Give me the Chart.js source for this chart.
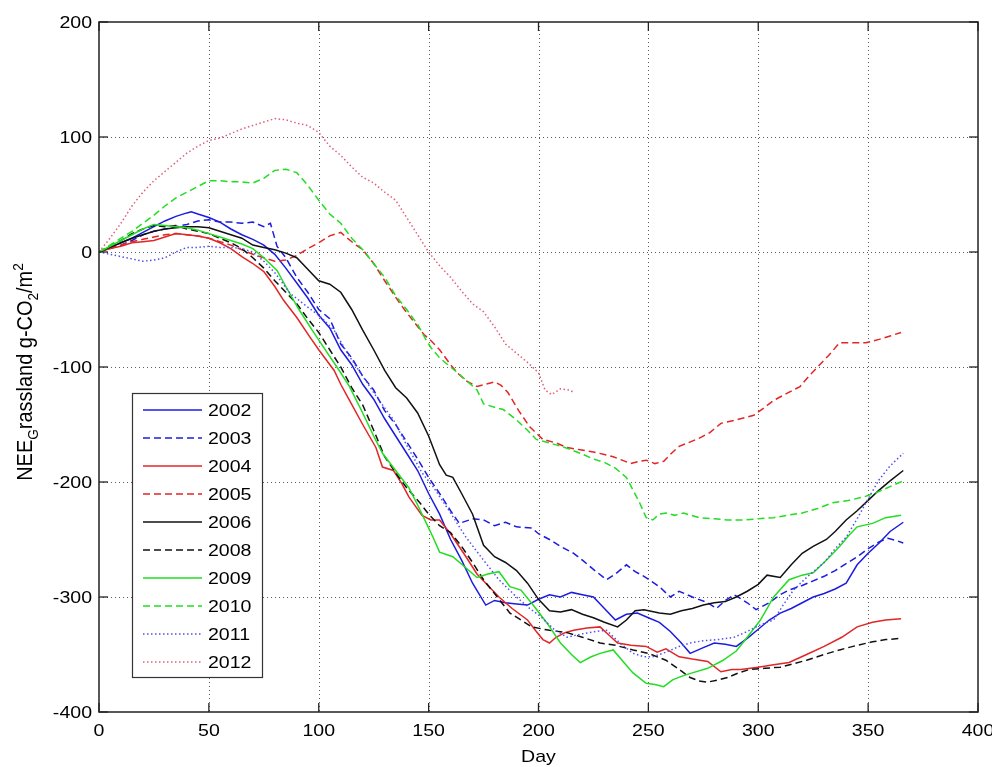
<!DOCTYPE html>
<html>
<head>
<meta charset="utf-8">
<script src="https://cdn.jsdelivr.net/npm/chart.js@4.4.1/dist/chart.umd.min.js"></script>
<style>
  html, body { margin: 0; padding: 0; background: #fff; }
  #wrap { width: 992px; height: 767px; }
</style>
</head>
<body>
<div id="wrap"><canvas id="c" width="992" height="767"></canvas></div>
<script>
// Cumulative grassland NEE (g-CO2/m2) against day of year, one curve per year.
const xTicks = [0, 50, 100, 150, 200, 250, 300, 350, 400];
const yTicks = [-400, -300, -200, -100, 0, 100, 200];
const years = ['2002', '2003', '2004', '2005', '2006', '2008', '2009', '2010', '2011', '2012'];

// [day, cumulative NEE]
const nee2002 = [[0,0],[5,4],[10,8],[15,12],[20,17],[25,22],[30,27],[35,31],[40,34],[42,35],[45,33],[50,30],[55,26],[60,20],[65,15],[70,11],[75,6],[80,-2],[85,-14],[90,-27],[95,-40],[100,-55],[105,-66],[110,-85],[115,-98],[120,-115],[125,-128],[130,-145],[135,-160],[140,-175],[145,-190],[150,-210],[155,-228],[160,-250],[165,-268],[170,-288],[176,-307],[180,-303],[185,-305],[190,-306],[195,-307],[200,-302],[205,-298],[210,-300],[215,-296],[220,-298],[225,-300],[230,-310],[235,-320],[240,-315],[245,-314],[250,-318],[255,-322],[260,-330],[265,-340],[269,-349],[275,-344],[280,-340],[285,-341],[290,-343],[295,-336],[300,-328],[305,-320],[310,-314],[315,-310],[320,-305],[325,-300],[330,-297],[335,-293],[340,-288],[345,-272],[350,-262],[355,-253],[360,-243],[366,-235]];
const nee2003 = [[0,0],[5,3],[10,6],[15,10],[20,15],[25,18],[30,20],[35,22],[40,24],[45,27],[50,28],[55,26],[60,26],[65,25],[70,26],[75,22],[78,25],[81,5],[85,-5],[90,-22],[95,-35],[100,-50],[105,-58],[110,-80],[115,-92],[120,-108],[125,-120],[130,-138],[135,-150],[140,-165],[145,-180],[150,-196],[155,-210],[160,-225],[164,-236],[170,-232],[175,-233],[180,-238],[185,-235],[190,-239],[197,-240],[200,-245],[205,-250],[210,-256],[216,-262],[220,-268],[225,-276],[231,-285],[235,-280],[240,-272],[244,-278],[248,-282],[255,-291],[260,-300],[264,-295],[270,-300],[277,-305],[281,-310],[285,-303],[289,-298],[295,-305],[299,-311],[305,-305],[310,-298],[314,-294],[320,-290],[325,-286],[330,-282],[335,-277],[340,-271],[345,-265],[350,-258],[355,-252],[359,-249],[363,-251],[366,-253]];
const nee2004 = [[0,0],[5,3],[10,5],[15,8],[20,9],[25,10],[30,13],[35,16],[40,15],[45,14],[50,12],[55,8],[60,3],[65,-4],[70,-10],[75,-17],[80,-30],[84,-42],[90,-57],[96,-74],[100,-85],[107,-103],[110,-115],[114,-129],[120,-150],[126,-170],[129,-187],[134,-190],[138,-202],[141,-213],[147,-229],[151,-233],[155,-233],[160,-245],[167,-265],[172,-280],[177,-290],[182,-300],[188,-310],[195,-320],[199,-330],[202,-337],[205,-340],[208,-335],[212,-331],[216,-329],[222,-327],[228,-326],[232,-333],[236,-340],[242,-342],[249,-343],[254,-348],[258,-345],[264,-352],[270,-354],[277,-356],[283,-365],[288,-363],[292,-363],[300,-361],[307,-359],[314,-357],[322,-350],[330,-343],[338,-335],[345,-326],[352,-322],[358,-320],[365,-319]];
const nee2005 = [[0,0],[5,3],[10,6],[15,9],[20,11],[25,13],[30,15],[35,16],[40,15],[45,14],[50,12],[55,9],[60,6],[65,2],[70,-2],[75,-5],[80,-8],[85,-7],[90,-3],[95,3],[100,8],[105,14],[110,17],[113,12],[117,6],[120,2],[125,-10],[130,-25],[137,-45],[143,-60],[148,-72],[151,-77],[155,-85],[160,-98],[163,-105],[167,-112],[172,-117],[176,-115],[180,-113],[183,-116],[186,-122],[191,-138],[196,-152],[202,-163],[208,-166],[213,-170],[219,-172],[225,-174],[230,-176],[234,-178],[238,-181],[242,-184],[246,-182],[249,-181],[253,-184],[257,-182],[260,-176],[264,-169],[268,-166],[273,-162],[278,-157],[283,-149],[290,-146],[298,-142],[303,-135],[307,-129],[313,-123],[319,-117],[323,-108],[327,-100],[332,-90],[337,-79],[343,-79],[349,-79],[355,-76],[360,-73],[365,-70]];
const nee2006 = [[0,0],[5,4],[10,8],[15,12],[20,15],[25,18],[30,20],[35,21],[40,22],[45,22],[50,21],[55,18],[60,15],[65,12],[70,6],[75,4],[80,2],[85,-1],[90,-5],[95,-15],[100,-25],[105,-28],[110,-35],[115,-50],[120,-68],[125,-85],[130,-103],[135,-118],[140,-127],[145,-140],[150,-160],[155,-185],[158,-194],[161,-196],[165,-210],[170,-228],[175,-255],[180,-265],[185,-270],[190,-277],[195,-288],[200,-302],[205,-312],[210,-313],[215,-311],[220,-315],[225,-318],[230,-322],[236,-326],[240,-320],[244,-312],[248,-311],[255,-314],[260,-315],[265,-312],[270,-310],[275,-307],[280,-305],[285,-304],[290,-300],[295,-295],[300,-289],[304,-281],[310,-283],[315,-272],[320,-262],[325,-256],[331,-250],[335,-243],[340,-233],[345,-225],[350,-216],[355,-207],[360,-199],[366,-190]];
const nee2008 = [[0,0],[5,5],[10,10],[15,16],[20,20],[25,23],[30,22],[35,23],[40,20],[45,18],[50,16],[55,12],[60,8],[65,3],[70,-5],[75,-14],[80,-25],[85,-35],[90,-45],[95,-58],[100,-70],[105,-85],[110,-100],[115,-118],[120,-133],[125,-155],[130,-178],[135,-192],[140,-205],[146,-218],[150,-228],[155,-238],[160,-244],[165,-256],[170,-270],[175,-285],[180,-297],[187,-314],[192,-320],[197,-326],[205,-329],[213,-331],[220,-335],[228,-340],[235,-342],[243,-346],[250,-349],[258,-355],[264,-363],[269,-370],[273,-373],[277,-374],[282,-372],[286,-370],[291,-366],[296,-363],[303,-362],[310,-361],[316,-358],[322,-355],[330,-350],[337,-346],[345,-342],[352,-339],[358,-337],[365,-336]];
const nee2009 = [[0,0],[5,5],[10,10],[15,15],[20,20],[25,24],[30,23],[35,22],[40,21],[45,19],[50,16],[55,13],[60,10],[65,7],[70,3],[75,-5],[81,-16],[85,-30],[91,-50],[97,-68],[104,-88],[110,-105],[114,-117],[120,-140],[125,-160],[129,-175],[135,-190],[141,-205],[145,-220],[149,-236],[152,-248],[155,-261],[161,-265],[166,-273],[172,-283],[177,-280],[182,-278],[187,-291],[192,-294],[198,-308],[204,-323],[210,-340],[215,-350],[219,-357],[224,-352],[228,-349],[234,-346],[238,-355],[243,-366],[249,-375],[253,-376],[257,-378],[261,-372],[265,-369],[270,-366],[277,-362],[284,-355],[290,-347],[295,-335],[301,-320],[307,-300],[314,-285],[320,-281],[325,-279],[331,-268],[337,-256],[341,-247],[345,-239],[352,-236],[358,-231],[365,-229]];
const nee2010 = [[0,0],[5,6],[10,12],[15,18],[20,25],[25,32],[30,40],[35,47],[40,52],[45,57],[50,62],[55,62],[60,61],[65,61],[70,60],[75,64],[80,71],[85,72],[90,69],[95,58],[100,45],[105,33],[110,25],[115,12],[120,2],[125,-10],[130,-22],[135,-38],[140,-50],[145,-63],[149,-77],[151,-83],[155,-92],[160,-100],[165,-108],[172,-120],[175,-132],[180,-135],[184,-137],[190,-146],[195,-155],[199,-163],[205,-166],[212,-170],[219,-175],[225,-180],[230,-183],[235,-188],[240,-196],[243,-207],[246,-218],[249,-231],[252,-233],[255,-228],[258,-227],[262,-229],[266,-227],[273,-231],[280,-232],[286,-233],[293,-233],[300,-232],[307,-231],[313,-229],[320,-227],[327,-223],[334,-218],[341,-216],[348,-213],[354,-209],[360,-204],[366,-199]];
const nee2011 = [[0,0],[5,-2],[10,-4],[15,-6],[20,-8],[25,-7],[30,-5],[35,0],[40,4],[45,4],[50,5],[55,4],[60,4],[65,3],[70,0],[75,-8],[80,-18],[87,-36],[95,-48],[100,-55],[107,-68],[113,-88],[120,-108],[126,-125],[134,-146],[140,-168],[147,-192],[152,-204],[160,-227],[167,-248],[175,-268],[182,-285],[190,-300],[196,-310],[201,-317],[207,-328],[213,-335],[220,-332],[226,-330],[231,-329],[237,-340],[243,-349],[248,-352],[252,-352],[258,-348],[264,-343],[269,-340],[275,-338],[282,-337],[289,-335],[295,-330],[300,-325],[307,-320],[311,-308],[316,-294],[322,-283],[330,-270],[335,-258],[340,-248],[345,-232],[349,-218],[355,-198],[360,-186],[366,-175]];
const nee2012 = [[0,0],[5,12],[10,25],[15,40],[20,52],[25,62],[30,70],[35,78],[40,86],[45,92],[50,97],[55,99],[60,103],[65,107],[70,110],[75,113],[80,116],[85,115],[90,112],[95,110],[100,104],[105,92],[110,84],[115,74],[120,65],[125,60],[130,52],[135,45],[140,30],[145,15],[150,0],[155,-12],[160,-22],[165,-34],[170,-45],[175,-52],[180,-65],[185,-80],[190,-88],[195,-96],[200,-105],[203,-120],[206,-124],[210,-119],[214,-120],[216,-122]];

const seriesData = [nee2002, nee2003, nee2004, nee2005, nee2006, nee2008, nee2009, nee2010, nee2011, nee2012];

const BLUE = '#1c1ce0', RED = '#e02626', BLACK = '#111111', GREEN = '#22dd22';
const SOLID = [], DASH = [7, 4], DOT = [1.5, 2.5];
const styles = [
  { color: BLUE, dash: SOLID },
  { color: BLUE, dash: DASH },
  { color: RED, dash: SOLID },
  { color: RED, dash: DASH },
  { color: BLACK, dash: SOLID },
  { color: BLACK, dash: DASH },
  { color: GREEN, dash: SOLID },
  { color: GREEN, dash: DASH },
  { color: '#5252ea', dash: DOT },
  { color: '#e0607a', dash: DOT }
];

const FONT = 'Liberation Sans, Arial, Helvetica, sans-serif';
const STRETCH = 1.15;   // glyphs are drawn slightly wide

function wideText(ctx, text, x, y, size, align, baseline) {
  ctx.save();
  ctx.font = size + 'px ' + FONT;
  ctx.textAlign = align;
  ctx.textBaseline = baseline;
  ctx.translate(x, y);
  ctx.scale(STRETCH, 1);
  ctx.fillText(text, 0, 0);
  ctx.restore();
}

const datasets = years.map((yr, i) => ({
  label: yr,
  data: seriesData[i].map(p => ({ x: p[0], y: p[1] })),
  borderColor: styles[i].color,
  borderDash: styles[i].dash,
  borderWidth: 1.5,
  pointRadius: 0,
  tension: 0,
  fill: false,
  order: years.length - i
}));

// Dotted grid, framed box, inward tick marks and tick labels, MATLAB-axes style.
const framePlugin = {
  id: 'frame',
  beforeDatasetsDraw(chart) {
    const { ctx, chartArea: a, scales: { x, y } } = chart;
    ctx.save();
    ctx.strokeStyle = 'rgba(40,40,40,0.75)';
    ctx.lineWidth = 1;
    ctx.setLineDash([1, 3]);
    x.ticks.forEach(t => {
      if (t.value === x.min || t.value === x.max) return;
      const px = Math.round(x.getPixelForValue(t.value)) + 0.5;
      ctx.beginPath(); ctx.moveTo(px, a.top); ctx.lineTo(px, a.bottom); ctx.stroke();
    });
    y.ticks.forEach(t => {
      if (t.value === y.min || t.value === y.max) return;
      const py = Math.round(y.getPixelForValue(t.value)) + 0.5;
      ctx.beginPath(); ctx.moveTo(a.left, py); ctx.lineTo(a.right, py); ctx.stroke();
    });
    ctx.restore();
  },
  afterDatasetsDraw(chart) {
    const { ctx, chartArea: a, scales: { x, y } } = chart;
    ctx.save();
    ctx.strokeStyle = '#222';
    ctx.lineWidth = 1.5;
    ctx.setLineDash([]);
    ctx.strokeRect(a.left, a.top, a.right - a.left, a.bottom - a.top);
    const tl = 9;
    ctx.lineWidth = 1.3;
    ctx.fillStyle = '#000';
    x.ticks.forEach(t => {
      const px = x.getPixelForValue(t.value);
      ctx.beginPath(); ctx.moveTo(px, a.bottom); ctx.lineTo(px, a.bottom - tl); ctx.stroke();
      ctx.beginPath(); ctx.moveTo(px, a.top); ctx.lineTo(px, a.top + tl); ctx.stroke();
      wideText(ctx, String(t.value), px, a.bottom + 19, 17, 'center', 'middle');
    });
    y.ticks.forEach(t => {
      const py = y.getPixelForValue(t.value);
      ctx.beginPath(); ctx.moveTo(a.left, py); ctx.lineTo(a.left + tl, py); ctx.stroke();
      ctx.beginPath(); ctx.moveTo(a.right, py); ctx.lineTo(a.right - tl, py); ctx.stroke();
      wideText(ctx, String(t.value), a.left - 7, py + 1, 17, 'right', 'middle');
    });
    ctx.restore();
  }
};

// Boxed legend inside the axes, lower left.
const legendPlugin = {
  id: 'boxLegend',
  afterDraw(chart) {
    const { ctx } = chart;
    const left = 132, top = 393, w = 130, h = 284;
    const rowH = 28, firstRow = 410;
    ctx.save();
    ctx.fillStyle = '#fff';
    ctx.fillRect(left, top, w, h);
    ctx.strokeStyle = '#333';
    ctx.lineWidth = 1.2;
    ctx.setLineDash([]);
    ctx.strokeRect(left + 0.5, top + 0.5, w, h);
    chart.data.datasets.forEach((ds, i) => {
      const yy = firstRow + i * rowH;
      ctx.strokeStyle = ds.borderColor;
      ctx.lineWidth = ds.borderWidth;
      ctx.setLineDash(ds.borderDash);
      ctx.beginPath(); ctx.moveTo(143, yy); ctx.lineTo(202, yy); ctx.stroke();
      ctx.setLineDash([]);
      ctx.fillStyle = '#000';
      wideText(ctx, ds.label, 208, yy + 1, 17, 'left', 'middle');
    });
    ctx.restore();
  }
};

// Axis titles, the vertical one with sub- and superscripts.
const titlePlugin = {
  id: 'axisTitles',
  afterDraw(chart) {
    const { ctx, chartArea: a } = chart;
    ctx.save();
    ctx.fillStyle = '#000';
    wideText(ctx, 'Day', (a.left + a.right) / 2, 757, 17, 'center', 'middle');

    const big = '19px ' + FONT, small = '13px ' + FONT;
    const parts = [
      { t: 'NEE', f: big, dy: 0 },
      { t: 'G', f: small, dy: 5 },
      { t: 'rassland g-CO', f: big, dy: 0 },
      { t: '2', f: small, dy: 5 },
      { t: '/m', f: big, dy: 0 },
      { t: '2', f: small, dy: -8 }
    ];
    let total = 0;
    parts.forEach(p => { ctx.font = p.f; p.w = ctx.measureText(p.t).width; total += p.w; });
    ctx.translate(32, 372);
    ctx.rotate(-Math.PI / 2);
    ctx.scale(1.05, STRETCH);
    ctx.textAlign = 'left';
    ctx.textBaseline = 'alphabetic';
    let cx = -total / 2;
    parts.forEach(p => { ctx.font = p.f; ctx.fillText(p.t, cx, p.dy); cx += p.w; });
    ctx.restore();
  }
};

new Chart(document.getElementById('c'), {
  type: 'line',
  data: { datasets },
  options: {
    responsive: false,
    animation: false,
    devicePixelRatio: 1,
    layout: { padding: { left: 0, right: 14, top: 22, bottom: 0 } },
    plugins: { legend: { display: false }, tooltip: { enabled: false } },
    scales: {
      x: {
        type: 'linear',
        min: 0, max: 400,
        afterBuildTicks: s => { s.ticks = xTicks.map(v => ({ value: v })); },
        ticks: { display: false },
        grid: { display: false, drawTicks: false },
        border: { display: false },
        afterFit: s => { s.height = 55; s.paddingLeft = 0; s.paddingRight = 0; }
      },
      y: {
        type: 'linear',
        min: -400, max: 200,
        afterBuildTicks: s => { s.ticks = yTicks.map(v => ({ value: v })); },
        ticks: { display: false },
        grid: { display: false, drawTicks: false },
        border: { display: false },
        afterFit: s => { s.width = 99; s.paddingTop = 0; s.paddingBottom = 0; }
      }
    }
  },
  plugins: [framePlugin, legendPlugin, titlePlugin]
});
</script>
</body>
</html>
